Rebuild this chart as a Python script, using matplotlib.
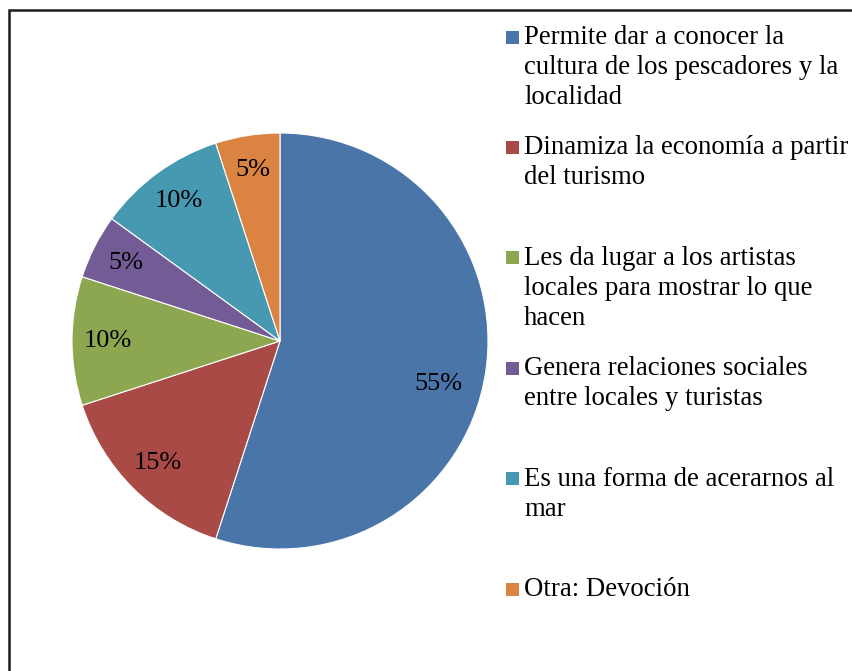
import matplotlib
matplotlib.use("Agg")
import matplotlib.pyplot as plt
from matplotlib.patches import Rectangle

categories = [
    "Permite dar a conocer la\ncultura de los pescadores y la\nlocalidad",
    "Dinamiza la economía a partir\ndel turismo",
    "Les da lugar a los artistas\nlocales para mostrar lo que\nhacen",
    "Genera relaciones sociales\nentre locales y turistas",
    "Es una forma de acerarnos al\nmar",
    "Otra: Devoción",
]
values = [55, 15, 10, 5, 10, 5]
colors = ["#4A75A9", "#AA4A46", "#8CA74F", "#735B96", "#4699B1", "#DB8442"]

W, H = 853, 671
fig = plt.figure(figsize=(W / 100, H / 100), dpi=100)
plt.rcParams["font.family"] = ["Liberation Serif", "DejaVu Serif"]

cx, cy, r = 280, 341, 208
ax = fig.add_axes([(cx - r) / W, (H - cy - r) / H, 2 * r / W, 2 * r / H])
wedges, texts, autotexts = ax.pie(
    values, colors=colors, startangle=90, counterclock=False,
    autopct="%1.0f%%", pctdistance=0.83, radius=1,
    wedgeprops=dict(edgecolor="white", linewidth=0.8),
    textprops=dict(fontsize=19, color="black", family="Liberation Serif"),
)
autotexts[0].set_position((0.76, -0.205))
ax.set_xlim(-1, 1)
ax.set_ylim(-1, 1)
ax.set_aspect("equal")
ax.axis("off")

# frame
fig.patches.append(Rectangle((8.5 / W, -0.02), 1.05, (H - 9.5) / H + 0.02,
                             transform=fig.transFigure, fill=False,
                             edgecolor="#1a1a1a", linewidth=1.8, clip_on=False))

# legend
sq = 13
spacing = 110.4
first = 37
line_h = 30
for i, (lab, col) in enumerate(zip(categories, colors)):
    yc = first + i * spacing
    fig.patches.append(Rectangle((506 / W, (H - yc - sq / 2) / H), sq / W, sq / H,
                                 transform=fig.transFigure, facecolor=col,
                                 edgecolor="none"))
    for k, line in enumerate(lab.split("\n")):
        yb = yc + 7 + k * line_h
        fig.text(524 / W, (H - yb) / H, line, fontsize=19.3, va="baseline",
                 ha="left", family="Liberation Serif")

fig.savefig("out.png", dpi=100)
